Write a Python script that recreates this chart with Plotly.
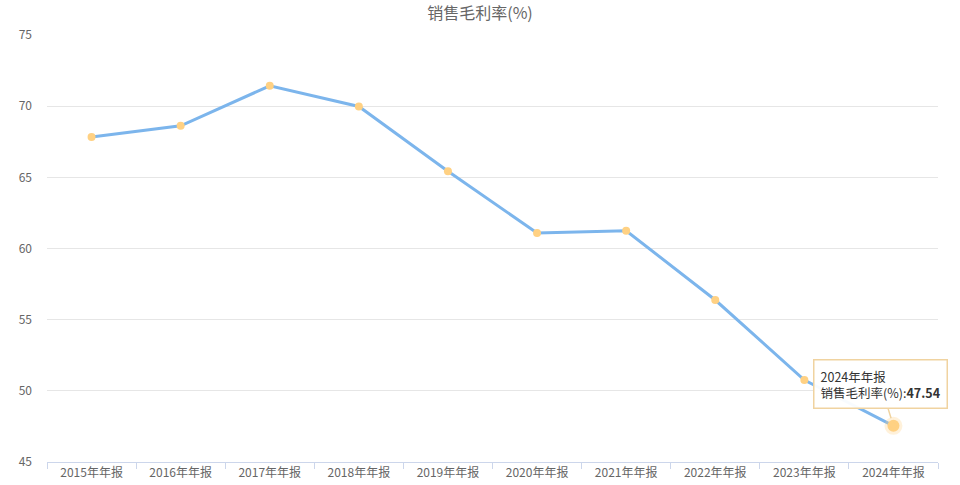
import plotly.graph_objects as go

categories = ["2015年年报", "2016年年报", "2017年年报", "2018年年报", "2019年年报",
              "2020年年报", "2021年年报", "2022年年报", "2023年年报", "2024年年报"]
values = [67.83, 68.62, 71.43, 69.98, 65.43, 61.09, 61.25, 56.38, 50.76, 47.54]
y_ticks = [45, 50, 55, 60, 65, 70, 75]
series_name = "销售毛利率(%)"

FONT = "Noto Sans CJK SC, Noto Sans, sans-serif"

fig = go.Figure()
fig.add_trace(go.Scatter(
    x=categories, y=values, mode="lines+markers", name=series_name,
    line=dict(color="#7cb5ec", width=3),
    marker=dict(color="#ffd183", size=8, line=dict(width=0)),
    hoverinfo="skip",
))
# highlighted last point (halo)
fig.add_trace(go.Scatter(
    x=[categories[-1]], y=[values[-1]], mode="markers",
    marker=dict(color="#ffd183", size=12, line=dict(color="rgba(255,209,131,0.3)", width=6)),
    hoverinfo="skip", showlegend=False,
))

fig.add_annotation(
    x=categories[-1], y=values[-1], xref="x", yref="y",
    text=f"2024年年报<br>{series_name}:<b>{values[-1]:.2f}</b>",
    showarrow=True, arrowhead=0, arrowwidth=1.5, arrowcolor="#f0d3a0",
    ax=-13, ay=-42, align="left", standoff=8,
    bgcolor="rgba(255,255,255,0.95)", bordercolor="#f0d3a0", borderwidth=1.5, borderpad=6,
    font=dict(family=FONT, size=12.5, color="#333"),
)

fig.update_layout(
    width=960, height=485,
    margin=dict(l=47, r=22, t=35, b=23, autoexpand=False),
    paper_bgcolor="white", plot_bgcolor="white",
    showlegend=False,
    title=dict(text=series_name, x=0.5, xanchor="center", y=0.972, yanchor="middle",
               font=dict(family=FONT, size=16, color="#666")),
    font=dict(family=FONT, size=12, color="#666"),
    xaxis=dict(
        type="category", tickson="boundaries", ticks="outside", ticklen=6,
        tickcolor="#ccd6eb", showline=True, linecolor="#ccd6eb", linewidth=1,
        showgrid=False, tickfont=dict(size=12, color="#666"),
        range=[-0.5, len(categories) - 0.5], automargin=False,
    ),
    yaxis=dict(
        range=[45, 75], tickvals=y_ticks, showgrid=True, gridcolor="#e6e6e6",
        zeroline=False, showline=False, ticks="", ticklabelstandoff=14,
        tickfont=dict(size=12, color="#666"), automargin=False,
    ),
)

fig.write_html("out.html", config={"displayModeBar": False},
               post_script="document.body.style.margin='0px';")
